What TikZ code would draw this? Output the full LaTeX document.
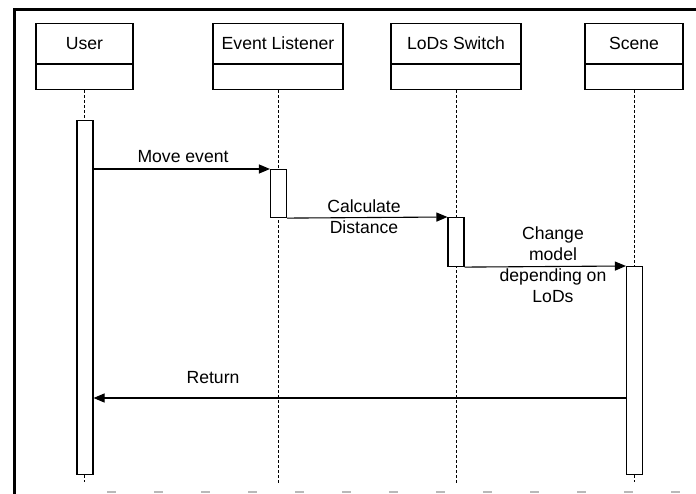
\documentclass[tikz,border=0pt]{standalone}
\usepackage{fontspec}
\setmainfont{Liberation Sans}
\usetikzlibrary{arrows.meta}
\begin{document}
\begin{tikzpicture}[x=1pt,y=-1pt,
  every node/.style={font=\fontsize{17.6}{21}\selectfont},
  head/.style={draw, line width=1.1pt, minimum height=40pt, inner sep=0pt, anchor=north},
  comp/.style={draw, line width=1.1pt, minimum height=25pt, inner sep=0pt, anchor=north},
  life/.style={line width=0.8pt, dash pattern=on 3pt off 2pt},
  actbar/.style={draw, fill=white, line width=1.1pt, minimum width=16pt, inner sep=0pt, anchor=north},
  msg/.style={line width=1.1pt, -{Triangle[length=11pt,width=9pt]}},
  lbl/.style={align=center, inner sep=0pt}]
\useasboundingbox (0,0) rectangle (696,494);

% outer frame
\draw[line width=3pt] (14.5,494) -- (14.5,10) -- (696,10);
\draw[gray!55, line width=2pt, dash pattern=on 9pt off 38pt] (107,492) -- (696,492);

% lifeline heads
\node[head, minimum width=97pt]  (uh) at (84.5,23) {User};
\node[comp, minimum width=97pt]  (uc) at (uh.south) {};
\node[head, minimum width=130pt] (eh) at (278,23) {Event Listener};
\node[comp, minimum width=130pt] (ec) at (eh.south) {};
\node[head, minimum width=130pt] (lh) at (456,23) {LoDs Switch};
\node[comp, minimum width=130pt] (lc) at (lh.south) {};
\node[head, minimum width=98pt]  (sh) at (634,23) {Scene};
\node[comp, minimum width=98pt]  (sc) at (sh.south) {};

% lifeline ends
\coordinate (uend) at (84.5,482);
\coordinate (eend) at (278,485);
\coordinate (lend) at (456,485);
\coordinate (send) at (634,482);

\draw[life] (uc.south) -- (uend);
\draw[life] (ec.south) -- (eend);
\draw[life] (lc.south) -- (lend);
\draw[life] (sc.south) -- (send);

% activation bars
\node[actbar, minimum height=354pt] (ub) at (85,120) {};
\node[actbar, minimum height=48pt]  (eb) at (278.5,169) {};
\node[actbar, minimum height=49pt]  (lb) at (456,217) {};
\node[actbar, minimum height=208pt] (sb) at (634.5,266) {};

% messages
\draw[msg] (ub.east |- eb.north west) -- (eb.north west);
\draw[msg] (eb.south east) -- (lb.north west);
\draw[msg] (lb.south east) -- (sb.north west);
\coordinate (ret) at (600,398);
\draw[msg] (sb.west |- ret) -- (ub.east |- ret);

% message labels
\node[lbl] (m1) at (183,157) {Move event};
\node[lbl] (m2) at (364,216.5) {Calculate\\Distance};
\node[lbl] (m3) at (553,265) {Change\\model\\depending on\\LoDs};
\node[lbl] (m4) at (213,378) {Return};
\end{tikzpicture}
\end{document}
